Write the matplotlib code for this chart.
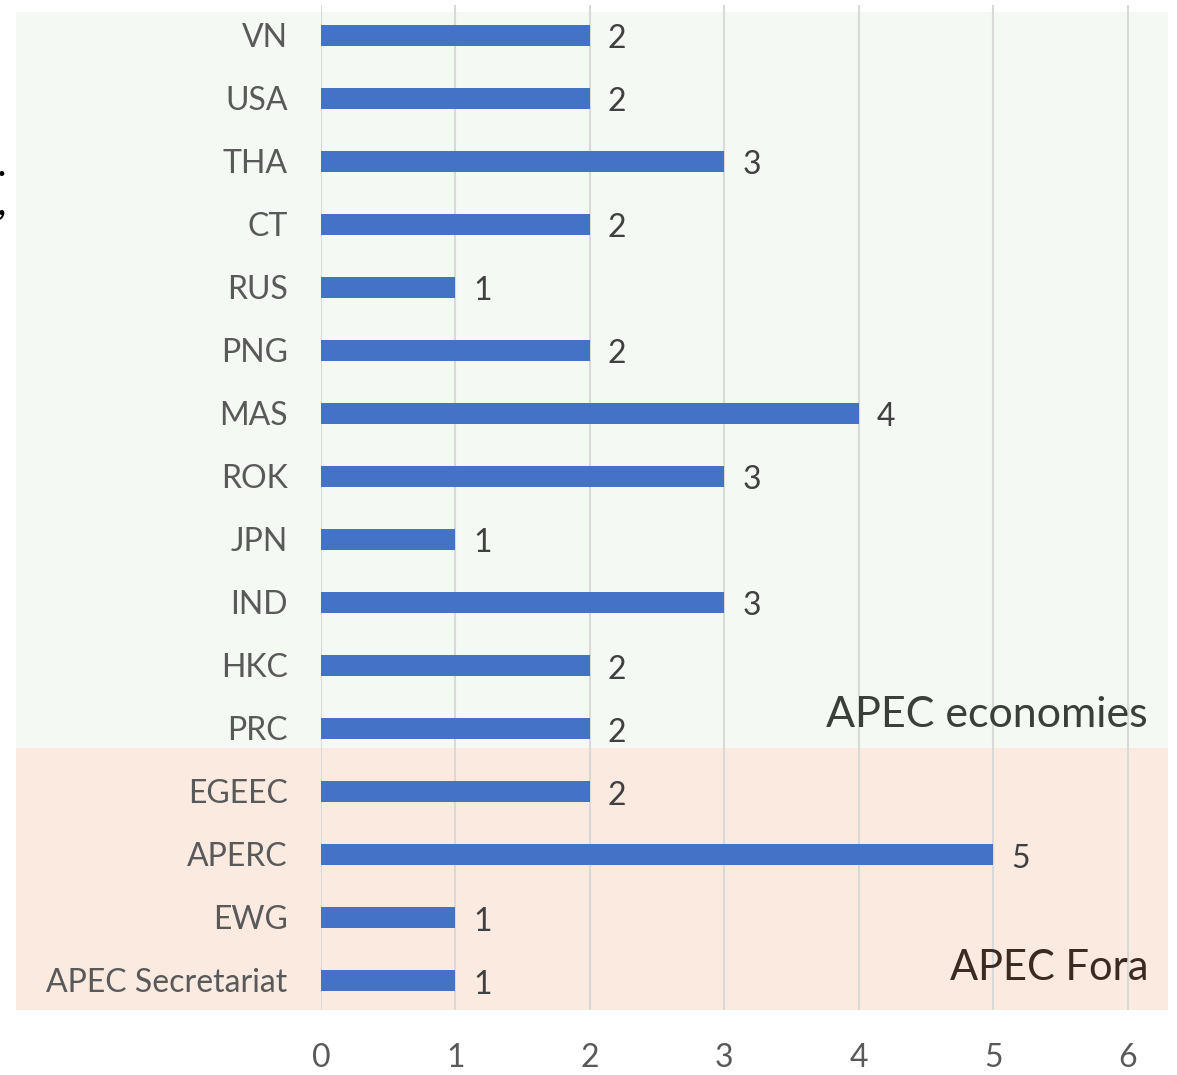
import matplotlib
matplotlib.use("Agg")
import matplotlib.pyplot as plt
from matplotlib.patches import Rectangle

categories = ["APEC Secretariat", "EWG", "APERC", "EGEEC", "PRC", "HKC", "IND",
              "JPN", "ROK", "MAS", "PNG", "RUS", "CT", "THA", "USA", "VN"]
values = [1, 1, 5, 2, 2, 2, 3, 1, 3, 4, 2, 1, 2, 3, 2, 2]
xticks = [0, 1, 2, 3, 4, 5, 6]

W, H = 1177, 1075
fig = plt.figure(figsize=(W / 100, H / 100), dpi=100)
fig.patch.set_facecolor("white")

def fx(px):
    return px / W

def fy(py):
    return 1 - py / H

# background bands (figure coordinates)
fig.patches.append(Rectangle((fx(16), fy(748)), fx(1168) - fx(16), fy(12) - fy(748),
                             transform=fig.transFigure, facecolor="#F4F9F3",
                             edgecolor="none", zorder=0))
fig.patches.append(Rectangle((fx(16), fy(1010)), fx(1168) - fx(16), fy(748) - fy(1010),
                             transform=fig.transFigure, facecolor="#FBEAE0",
                             edgecolor="none", zorder=0))

ax = fig.add_axes([fx(321), fy(1010), fx(1168) - fx(321), fy(5) - fy(1010)])
ax.set_facecolor("none")
ax.set_zorder(1)

font = "Lato"
ypos = list(range(len(categories)))
ax.barh(ypos, values, height=0.34, color="#4472C4", zorder=3)
ax.set_xlim(0, 6.3)
ax.set_ylim(-0.47, 15.48)
ax.set_xticks(xticks)
ax.set_xticklabels([str(t) for t in xticks], fontsize=23, color="#595959", family=font)
ax.set_yticks(ypos)
ax.set_yticklabels(categories, fontsize=23, color="#595959", family=font)
ax.tick_params(axis="both", length=0)
ax.tick_params(axis="x", pad=24)
ax.tick_params(axis="y", pad=24)
for s in ax.spines.values():
    s.set_visible(False)
ax.xaxis.grid(True, color="#D9D9D9", linewidth=1.5, zorder=0)
ax.set_axisbelow(True)

for y, v in zip(ypos, values):
    ax.annotate(str(v), (v, y), xytext=(13, -3), textcoords="offset points",
                ha="left", va="center", fontsize=23, color="#404040", family=font)

fig.text(fx(1148), fy(715), "APEC economies", ha="right", va="center",
         fontsize=31, color="#3A3F3A", family=font, zorder=5)
fig.text(fx(1148), fy(968), "APEC Fora", ha="right", va="center",
         fontsize=30, color="#3B2A22", family=font, zorder=5)

# clipped stray glyphs at the left edge
fig.text(fx(-2), fy(176), ".", ha="left", va="baseline", fontsize=24, color="black",
         family=font, fontweight="bold")
fig.text(fx(-2), fy(205), ",", ha="left", va="center", fontsize=24, color="black",
         family=font, fontweight="bold")

fig.savefig("out.png", dpi=100)
